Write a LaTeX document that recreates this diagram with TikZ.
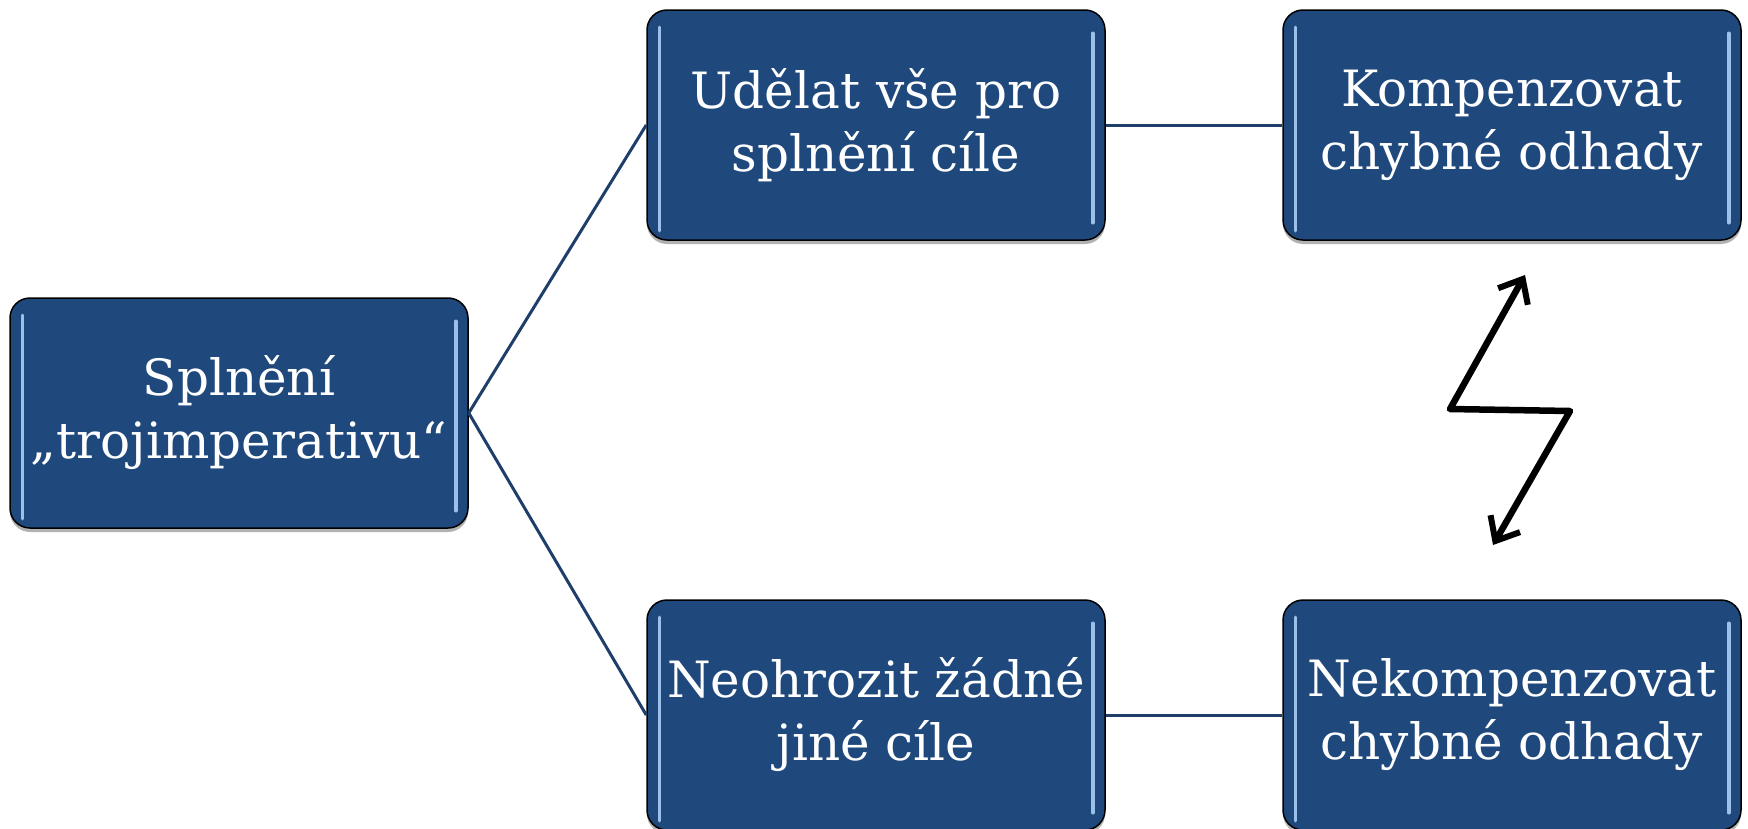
\documentclass[tikz,border=0pt]{standalone}
\usepackage{fontspec}
\setmainfont{DejaVu Serif}
\usetikzlibrary{arrows.meta,calc,shadows}
\definecolor{boxblue}{HTML}{1F497D}
\definecolor{linkblue}{HTML}{1F3F6A}
\definecolor{glint}{HTML}{9CC0EA}
\tikzset{
  goalbox/.style={draw=black, line width=1.5pt, fill=boxblue, rounded corners=20pt,
    minimum width=458pt, minimum height=230pt, inner sep=0pt,
    text=white, align=center, font=\fontsize{50}{63}\selectfont,
    drop shadow={shadow xshift=0pt, shadow yshift=-4pt, opacity=0.3, fill=black}},
  glintline/.style={draw=glint, line width=3.5pt, line cap=round},
  link/.style={draw=linkblue, line width=3pt},
  bolt/.style={draw=black, line width=6.5pt, line cap=round, line join=round,
    {Straight Barb[length=20pt, width=34pt, line width=6pt]}-{Straight Barb[length=20pt, width=34pt, line width=6pt]}}
}
\begin{document}
\begin{tikzpicture}[x=1pt, y=-1pt]
\useasboundingbox (0,0) rectangle (1748,828);

% goal boxes
\node[goalbox] (root) at (239,413) {Splnění\\„trojimperativu“};
\node[goalbox] (do)   at (876,125) {Udělat vše pro\\splnění cíle};
\node[goalbox] (keep) at (876,715) {Neohrozit žádné\\jiné cíle};
\node[goalbox] (comp) at (1512,125) {Kompenzovat\\chybné odhady};
\node[goalbox] (nocomp) at (1512,715) {Nekompenzovat\\chybné odhady};

% glossy edge highlights
\foreach \n in {root,do,keep,comp,nocomp}{
  \draw[glintline] ($(\n.north west)+(13,18)$) -- ($(\n.south west)+(13,-10)$);
  \draw[glintline] ($(\n.north east)+(-13,24)$) -- ($(\n.south east)+(-13,-18)$);
}

% tree connectors
\draw[link] (root.east) -- (do.west);
\draw[link] (root.east) -- (keep.west);
\draw[link] (do.east) -- (comp.west);
\draw[link] (keep.east) -- (nocomp.west);

% lightning-bolt conflict arrow
\coordinate (zt) at (1525,275);
\coordinate (za) at (1450,409);
\coordinate (zb) at (1570,411);
\coordinate (zs) at (1493,545);
\draw[bolt] (zt) -- (za) -- (zb) -- (zs);
\end{tikzpicture}
\end{document}
